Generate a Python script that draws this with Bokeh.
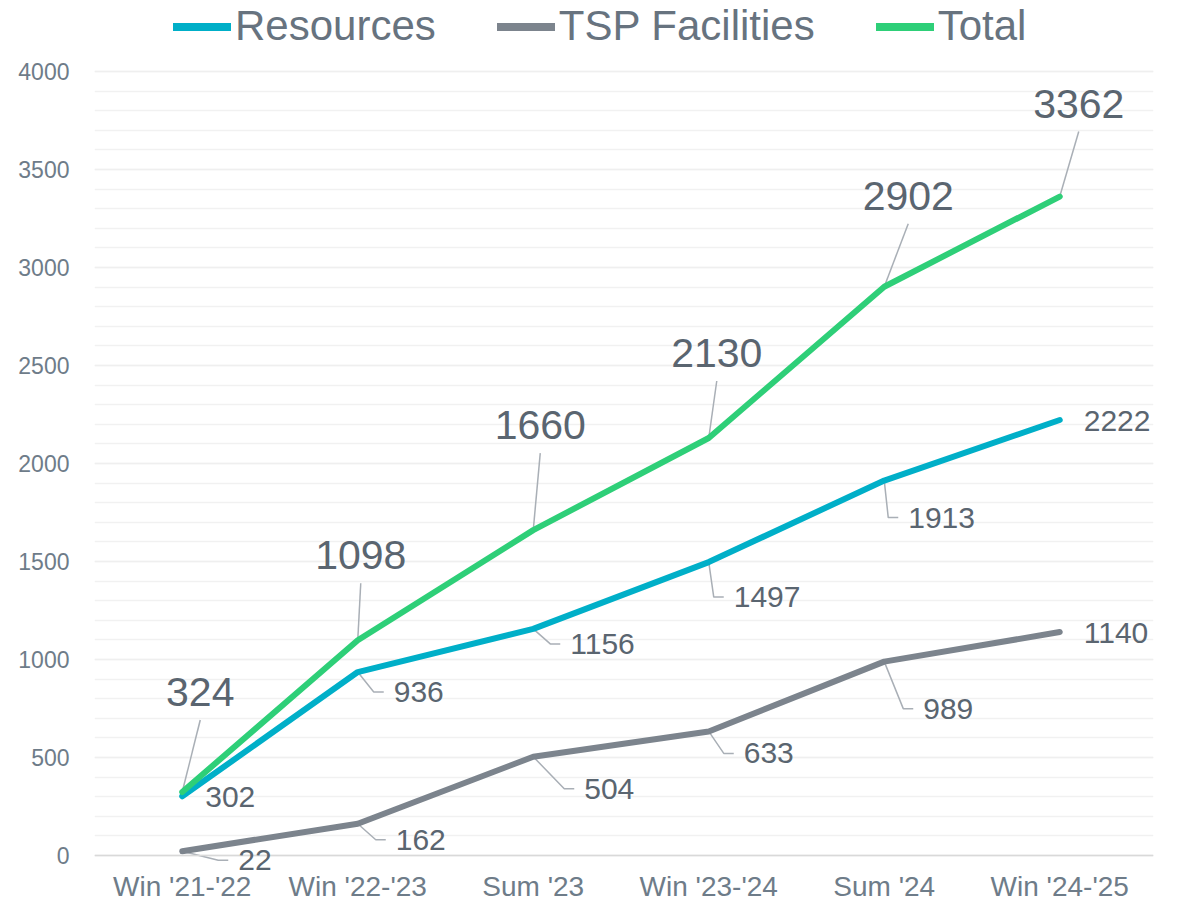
from bokeh.plotting import figure
from bokeh.models import (Range1d, FixedTicker, ColumnDataSource, LabelSet, Legend,
                          LegendItem, Span)
from bokeh.core.properties import value
from bokeh.embed import file_html
from bokeh.resources import INLINE

# ---- data ----
categories = ["Win '21-'22", "Win '22-'23", "Sum '23", "Win '23-'24", "Sum '24", "Win '24-'25"]
resources = [302, 936, 1156, 1497, 1913, 2222]
tsp_facilities = [22, 162, 504, 633, 989, 1140]
total = [324, 1098, 1660, 2130, 2902, 3362]
series_names = ["Resources", "TSP Facilities", "Total"]
y_major_ticks = list(range(0, 4001, 500))
y_minor_ticks = list(range(0, 4001, 100))

# ---- style / geometry ----
FONT = "Liberation Sans"
C_RES, C_TSP, C_TOT = "#00AFC8", "#7C848D", "#2ECF78"
C_LABEL = "#5A6570"
C_AXIS = "#6E7C89"
C_LEADER = "#A9AFB6"
W, H = 1177, 905
B_LEFT, B_RIGHT, B_TOP, B_BOTTOM = 94, 24, 0, 33
FRAME_W, FRAME_H = W - B_LEFT - B_RIGHT, H - B_TOP - B_BOTTOM
PAD_RIGHT_PX, PAD_TOP_PX, PAD_BOTTOM_PX = 6, 71, 17   # room for labels / legend
Y_MAX = y_major_ticks[-1]
XPX = (FRAME_W - PAD_RIGHT_PX) / len(categories)
YPX = (FRAME_H - PAD_TOP_PX - PAD_BOTTOM_PX) / Y_MAX

# label offsets in screen pixels (dx right, dy down) relative to each point
total_off = [(18, -100), (3, -85), (7, -105), (8, -85), (24, -91), (19, -93)]
res_off = [(23, 1), (36, 20), (37, 15), (25, 35), (24, 37), (24, 1)]
tsp_off = [(56, 9), (38, 16), (51, 32), (35, 22), (39, 47), (24, 1)]

x_range = Range1d(-0.5, len(categories) - 0.5 + PAD_RIGHT_PX / XPX)
y_range = Range1d(-PAD_BOTTOM_PX / YPX, Y_MAX + PAD_TOP_PX / YPX)

p = figure(width=W, height=H, output_backend="svg", toolbar_location=None,
           x_range=x_range, y_range=y_range,
           min_border_left=B_LEFT, min_border_right=B_RIGHT,
           min_border_top=B_TOP, min_border_bottom=B_BOTTOM)
p.outline_line_color = None
p.background_fill_color = "white"
p.border_fill_color = "white"

idx = list(range(len(categories)))

def to_data(i, v, dx, dy):
    return i + dx / XPX, v - dy / YPX

# baseline
p.add_layout(Span(location=0, dimension="width", line_color="#D9D9D9", line_width=1.5))

# leader lines
lx, ly = [], []
for vals, offs in [(resources, res_off), (tsp_facilities, tsp_off)]:
    for i, (v, (dx, dy)) in enumerate(zip(vals, offs)):
        if abs(dy) < 5:
            continue
        x0, y0 = to_data(i, v, 0, 0)
        x1, y1 = to_data(i, v, dx - 20, dy)
        x2, y2 = to_data(i, v, dx - 10, dy)
        lx.append([x0, x1, x2]); ly.append([y0, y1, y2])
for i, (v, (dx, dy)) in enumerate(zip(total, total_off)):
    x0, y0 = to_data(i, v, 0, 0)
    x1, y1 = to_data(i, v, dx, dy + 28)
    lx.append([x0, x1]); ly.append([y0, y1])
p.multi_line(lx, ly, line_color=C_LEADER, line_width=1.5)

# series lines
legend_renderers = []
for vals, col in [(resources, C_RES), (tsp_facilities, C_TSP), (total, C_TOT)]:
    p.line(idx, vals, line_width=6, line_color=col, line_cap="round", line_join="round")
    lr = p.line(idx, vals, line_width=8, line_color=col, line_cap="round", visible=False)
    legend_renderers.append(lr)

# data labels
def labels(vals, offs, size, align):
    xs, ys = [], []
    for i, (v, (dx, dy)) in enumerate(zip(vals, offs)):
        x, y = to_data(i, v, dx, dy)
        xs.append(x); ys.append(y)
    src = ColumnDataSource(dict(x=xs, y=ys, t=[str(v) for v in vals]))
    p.add_layout(LabelSet(x="x", y="y", text="t", source=src, text_font=value(FONT),
                          text_font_size=value(size), text_color=C_LABEL,
                          text_align=align, text_baseline="middle"))

labels(resources, res_off, "30px", "left")
labels(tsp_facilities, tsp_off, "30px", "left")
labels(total, total_off, "41px", "center")

# axes
p.xaxis.ticker = FixedTicker(ticks=idx)
p.xaxis.major_label_overrides = {i: c for i, c in enumerate(categories)}
p.xaxis.major_label_text_font = FONT
p.xaxis.major_label_text_font_size = "28px"
p.xaxis.major_label_text_color = C_AXIS
p.xaxis.axis_line_color = None
p.xaxis.major_tick_line_color = None
p.xaxis.minor_tick_line_color = None
p.xaxis.major_tick_out = 0
p.xaxis.major_tick_in = 0
p.xaxis.major_label_standoff = -2

p.yaxis.ticker = FixedTicker(ticks=y_major_ticks, minor_ticks=y_minor_ticks)
p.yaxis.major_label_text_font = FONT
p.yaxis.major_label_text_font_size = "23px"
p.yaxis.major_label_text_color = C_AXIS
p.yaxis.axis_line_color = None
p.yaxis.major_tick_line_color = None
p.yaxis.minor_tick_line_color = None
p.yaxis.major_tick_out = 0
p.yaxis.major_tick_in = 0
p.yaxis.major_label_standoff = 21

p.xgrid.grid_line_color = None
p.ygrid.grid_line_color = "#EFEFEF"
p.ygrid.grid_line_width = 1.5
p.ygrid.minor_grid_line_color = "#F1F1F1"
p.ygrid.minor_grid_line_width = 1.5

# legend (inside the extended frame, above the 4000 gridline)
items = [LegendItem(label=n, renderers=[r]) for n, r in zip(series_names, legend_renderers)]
legend = Legend(items=items, orientation="horizontal",
                location=(173 - B_LEFT, FRAME_H - 50),
                label_text_font=FONT, label_text_font_size="42px",
                label_text_color="#67737F", glyph_width=58, glyph_height=47,
                label_height=47, label_standoff=4, spacing=61, padding=0, margin=0,
                border_line_color=None, background_fill_alpha=0,
                inactive_fill_alpha=0)
p.add_layout(legend, "center")

open("out.html", "w").write(file_html(p, INLINE))
